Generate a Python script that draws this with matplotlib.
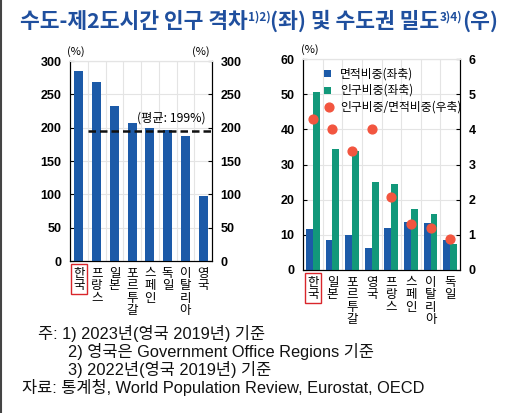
import numpy as np
import matplotlib
matplotlib.use("Agg")
from matplotlib import pyplot as plt

plt.rcParams['font.family'] = ['Noto Sans CJK KR', 'DejaVu Sans']
LATIN = ['Liberation Sans', 'Noto Sans CJK KR']

# left chart: capital vs 2nd city population gap (%)
gap_countries = ["한국", "프랑스", "일본", "포르투갈", "스페인", "독일", "이탈리아", "영국"]
gap_values = [285, 268, 232, 207, 200, 197, 187, 98]
gap_avg = 195
gap_avg_label = "(평균: 199%)"

# right chart: capital region share of area / population (%), ratio
dens_countries = ["한국", "일본", "포르투갈", "영국", "프랑스", "스페인", "이탈리아", "독일"]
area_share = [11.7, 8.5, 10.0, 6.2, 11.9, 13.6, 13.5, 8.5]
pop_share = [50.6, 34.4, 33.8, 24.9, 24.5, 17.3, 16.0, 7.4]
ratio = [4.29, 4.0, 3.39, 4.0, 2.07, 1.31, 1.19, 0.87]

BLUE = "#1c5aa8"
GREEN = "#12987a"
RED = "#f2553f"
TITLE = "#1f4f9e"
GRID = "#e4e4e4"

fig = plt.figure(figsize=(5.12, 4.13), dpi=100)

def vert(s):
    return "\n".join(list(s))

def style(ax, ax2):
    for a in (ax, ax2):
        a.spines['top'].set_color(GRID)
        a.tick_params(direction='in', length=3, labelsize=9, pad=6)
        for lab in a.get_yticklabels():
            lab.set_fontweight('bold')
            lab.set_family(LATIN)
    ax.tick_params(axis='x', length=0, pad=4)

# ---- left chart
ax = fig.add_axes([70/512, 1-261/413, 142/512, 200/413])
x = np.arange(len(gap_countries))
ax.bar(x, gap_values, width=0.52, color=BLUE, zorder=3)
ax.plot([0.5, len(x)-0.5], [gap_avg, gap_avg], ls=(0, (3, 1.6)), color="#111111", lw=1.8, zorder=4)
ax.text(5.2, gap_avg+9, gap_avg_label, ha='center', va='bottom', fontsize=8.8)
ax.set_xlim(-0.5, len(x)-0.5)
ax.set_ylim(0, 300)
ax.set_yticks(np.arange(0, 301, 50))
ax.set_xticks(x)
ax.set_xticklabels([vert(c) for c in gap_countries], fontsize=8.5, linespacing=0.95, va='top')
ax.set_xticks(np.arange(0.5, len(x)-0.5), minor=True)
ax.tick_params(axis='x', which='minor', length=0)
ax.grid(True, which='minor', axis='x', color=GRID, lw=0.8, zorder=0)
ax.grid(True, which='major', axis='y', color=GRID, lw=0.8, zorder=0)
ax2 = ax.twinx()
ax2.set_ylim(0, 300)
ax2.set_yticks(np.arange(0, 301, 50))
style(ax, ax2)
ax.text(-0.02, 1.02, "(%)", transform=ax.transAxes, ha='left', va='bottom', fontsize=8)
ax.text(0.98, 1.02, "(%)", transform=ax.transAxes, ha='right', va='bottom', fontsize=8)
ax.get_xticklabels()[0].set_bbox(dict(facecolor='none', edgecolor='#d9262b', lw=1.0, pad=1.5))

# ---- right chart
bx = fig.add_axes([303/512, 1-270/413, 157/512, 211/413])
x = np.arange(len(dens_countries))
w = 0.35
bx.bar(x - w/2, area_share, width=w, color=BLUE, zorder=3, label="면적비중(좌축)")
bx.bar(x + w/2, pop_share, width=w, color=GREEN, zorder=3, label="인구비중(좌축)")
bx.set_xlim(-0.5, len(x)-0.5)
bx.set_ylim(0, 60)
bx.set_yticks(np.arange(0, 61, 10))
bx.set_xticks(x)
bx.set_xticklabels([vert(c) for c in dens_countries], fontsize=8.5, linespacing=0.95, va='top')
bx.set_xticks(np.arange(0.5, len(x)-0.5), minor=True)
bx.tick_params(axis='x', which='minor', length=0)
bx.grid(True, which='minor', axis='x', color=GRID, lw=0.8, zorder=0)
bx.grid(True, which='major', axis='y', color=GRID, lw=0.8, zorder=0)
bx2 = bx.twinx()
bx2.scatter(x, ratio, s=40, color=RED, zorder=5, label="인구비중/면적비중(우축)")
bx2.set_ylim(0, 6)
bx2.set_yticks(np.arange(0, 7, 1))
style(bx, bx2)
bx.text(-0.01, 1.02, "(%)", transform=bx.transAxes, ha='left', va='bottom', fontsize=8)
bx.get_xticklabels()[0].set_bbox(dict(facecolor='none', edgecolor='#d9262b', lw=1.0, pad=1.5))
h1, l1 = bx.get_legend_handles_labels()
h2, l2 = bx2.get_legend_handles_labels()
leg = bx2.legend(h1 + h2, l1 + l2, loc='upper left', bbox_to_anchor=(0.08, 1.0), frameon=False,
                 fontsize=8.5, handlelength=0.8, handletextpad=0.6, labelspacing=0.3,
                 borderaxespad=0.3)
for hnd in leg.legend_handles[:2]:
    hnd.set_height(5)
    hnd.set_width(5)

# ---- title (with superscripts)
fig.canvas.draw()
renderer = fig.canvas.get_renderer()
pieces = [("수도-제2도시간 인구 격차", 15.5, 0), ("1)2)", 8.5, 7), ("(좌) 및 수도권 밀도", 15.5, 0),
          ("3)4)", 8.5, 7), ("(우)", 15.5, 0)]
xp = 20
for txt, fs, dy in pieces:
    t = fig.text(xp/512, 1-(28-dy)/413, txt, fontsize=fs, fontweight='bold', color=TITLE,
                 ha='left', va='baseline')
    xp = t.get_window_extent(renderer).x1

# ---- notes
notes = [
    (38, 333, "주: 1) 2023년(영국 2019년) 기준"),
    (68, 351, "2) 영국은 Government Office Regions 기준"),
    (68, 369, "3) 2022년(영국 2019년) 기준"),
    (22, 387, "자료: 통계청, World Population Review, Eurostat, OECD"),
]
for nx, ny, s in notes:
    fig.text(nx/512, 1-ny/413, s, fontsize=11.8, ha='left', va='center', color="#111111",
             family=LATIN)

# left border line
fig.add_artist(plt.Line2D([0.002, 0.002], [0, 1], color="#444444", lw=1.5, transform=fig.transFigure))

fig.savefig("out.png", dpi=100)
